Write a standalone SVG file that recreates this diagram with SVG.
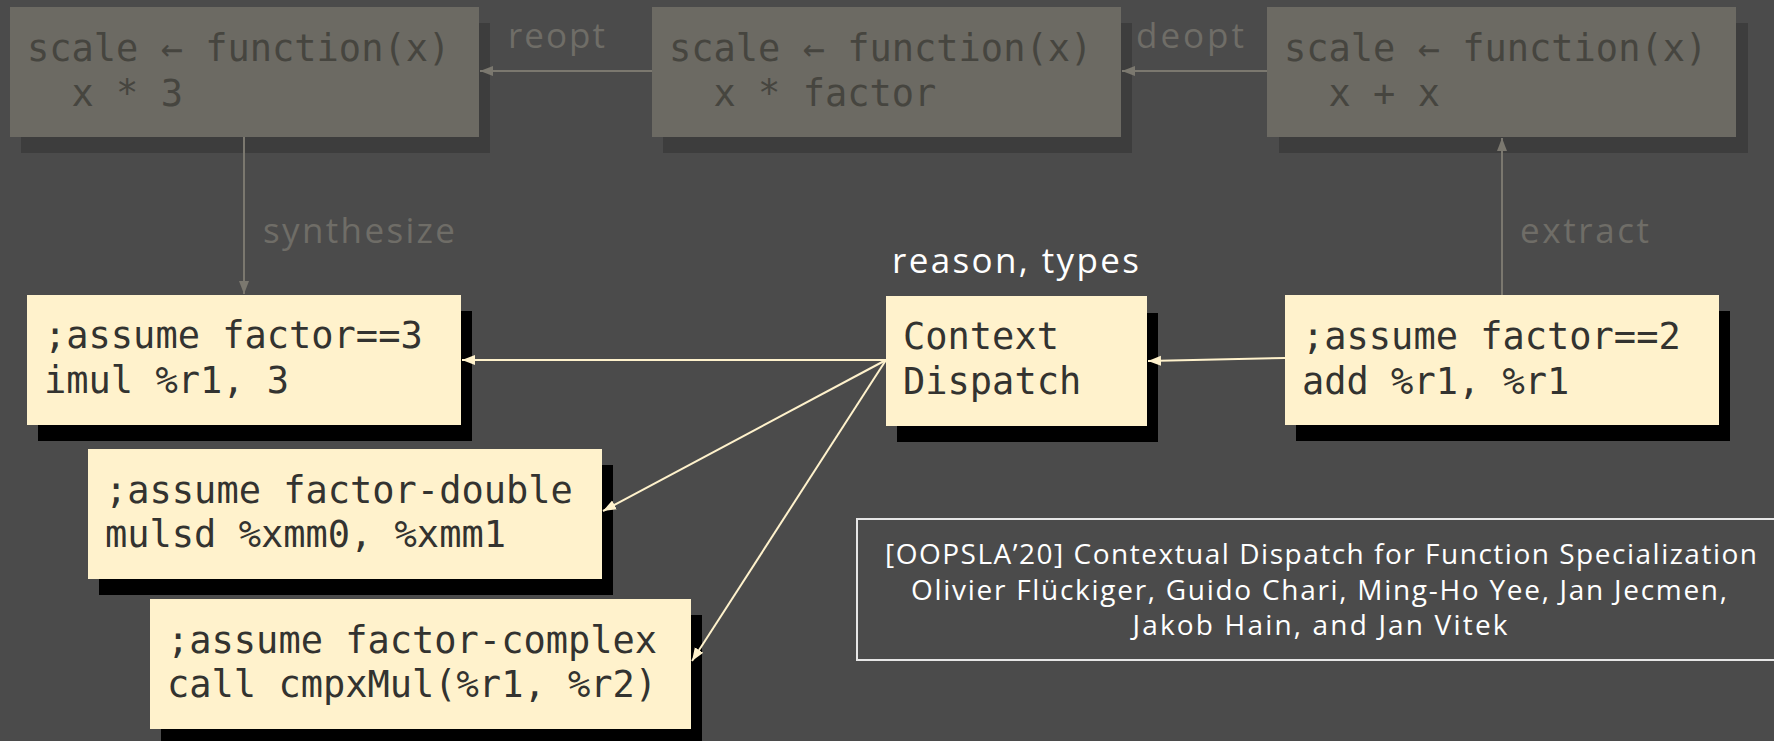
<svg xmlns="http://www.w3.org/2000/svg" width="1774" height="741" viewBox="0 0 1774 741">
<defs>
<style>
.bg{fill:#4b4b4b}
.gbox{fill:#6c6a63}
.gsh{fill:#3d3d3d}
.cbox{fill:#fff2cc}
.csh{fill:#000}
.mono{font-family:"DejaVu Sans Mono","Liberation Mono",monospace;font-size:37px}
.gtxt{fill:#46453f}
.ctxt{fill:#333330}
.lbl{font-family:"Open Sans","Noto Sans",sans-serif;font-size:35px;fill:#6f6d67}
.white{font-family:"Open Sans","Noto Sans",sans-serif;font-size:35px;fill:#ffffff}
.cite{font-family:"Open Sans","Noto Sans",sans-serif;font-size:28px;fill:#ffffff;text-anchor:middle}
.garrow{stroke:#7b786f;stroke-width:2;fill:none}
.carrow{stroke:#fff2cc;stroke-width:2;fill:none}
</style>
<marker id="mg" markerUnits="userSpaceOnUse" markerWidth="14" markerHeight="12" refX="13" refY="6" orient="auto">
<path d="M0,1 L13,6 L0,11 z" fill="#7b786f"/>
</marker>
<marker id="mc" markerUnits="userSpaceOnUse" markerWidth="14" markerHeight="12" refX="13" refY="6" orient="auto">
<path d="M0,1 L13,6 L0,11 z" fill="#fff2cc"/>
</marker>
</defs>
<rect class="bg" x="0" y="0" width="1774" height="741"/>

<g id="nodeA">
<rect class="gsh" x="21" y="23" width="469" height="130"/>
<rect class="gbox" x="10" y="7" width="469" height="130"/>
<text class="mono gtxt" x="27" y="61">scale ← function(x)</text>
<text class="mono gtxt" x="27" y="106" xml:space="preserve">  x * 3</text>
</g>
<g id="nodeB">
<rect class="gsh" x="663" y="23" width="469" height="130"/>
<rect class="gbox" x="652" y="7" width="469" height="130"/>
<text class="mono gtxt" x="669" y="61">scale ← function(x)</text>
<text class="mono gtxt" x="669" y="106" xml:space="preserve">  x * factor</text>
</g>
<g id="nodeC">
<rect class="gsh" x="1279" y="23" width="469" height="130"/>
<rect class="gbox" x="1267" y="7" width="469" height="130"/>
<text class="mono gtxt" x="1284" y="61">scale ← function(x)</text>
<text class="mono gtxt" x="1284" y="106" xml:space="preserve">  x + x</text>
</g>

<g id="nodeD">
<rect class="csh" x="38" y="311" width="434" height="130"/>
<rect class="cbox" x="27" y="295" width="434" height="130"/>
<text class="mono ctxt" x="44" y="348">;assume factor==3</text>
<text class="mono ctxt" x="44" y="393">imul %r1, 3</text>
</g>
<g id="nodeContext">
<text class="white" x="892" y="273" textLength="247">reason, types</text>
<rect class="csh" x="897" y="313" width="261" height="129"/>
<rect class="cbox" x="886" y="296" width="261" height="130"/>
<text class="mono ctxt" x="903" y="349">Context</text>
<text class="mono ctxt" x="903" y="394">Dispatch</text>
</g>
<g id="nodeE">
<rect class="csh" x="1296" y="311" width="434" height="130"/>
<rect class="cbox" x="1285" y="295" width="434" height="130"/>
<text class="mono ctxt" x="1302" y="349">;assume factor==2</text>
<text class="mono ctxt" x="1302" y="394">add %r1, %r1</text>
</g>
<g id="nodeF">
<rect class="csh" x="99" y="465" width="514" height="130"/>
<rect class="cbox" x="88" y="449" width="514" height="130"/>
<text class="mono ctxt" x="105" y="503">;assume factor-double</text>
<text class="mono ctxt" x="105" y="547">mulsd %xmm0, %xmm1</text>
</g>
<g id="nodeG">
<rect class="csh" x="161" y="615" width="541" height="130"/>
<rect class="cbox" x="150" y="599" width="541" height="130"/>
<text class="mono ctxt" x="167" y="653">;assume factor-complex</text>
<text class="mono ctxt" x="167" y="697">call cmpxMul(%r1, %r2)</text>
</g>

<g id="citation">
<rect x="857" y="519" width="1000" height="141" fill="none" stroke="#e6e6e6" stroke-width="2"/>
<text class="cite" x="1321" y="564" textLength="872">[OOPSLA’20] Contextual Dispatch for Function Specialization</text>
<text class="cite" x="1319" y="600" textLength="816">Olivier Flückiger, Guido Chari, Ming-Ho Yee, Jan Jecmen,</text>
<text class="cite" x="1320" y="635" textLength="375">Jakob Hain, and Jan Vitek</text>
</g>

<g id="connectors">
<path class="garrow" d="M652,71 L480,71" marker-end="url(#mg)"/>
<path class="garrow" d="M1267,71 L1122,71" marker-end="url(#mg)"/>
<path class="garrow" d="M244,137 L244,294" marker-end="url(#mg)"/>
<path class="garrow" d="M1502,295 L1502,138" marker-end="url(#mg)"/>
<path class="carrow" d="M1285,358 L1148,361" marker-end="url(#mc)"/>
<path class="carrow" d="M886,360 L462,360" marker-end="url(#mc)"/>
<path class="carrow" d="M886,360 L603,511" marker-end="url(#mc)"/>
<path class="carrow" d="M886,360 L692,661" marker-end="url(#mc)"/>
<text class="lbl" x="508" y="48" textLength="97">reopt</text>
<text class="lbl" x="1136" y="48" textLength="108">deopt</text>
<text class="lbl" x="263" y="243" textLength="192">synthesize</text>
<text class="lbl" x="1520" y="243" textLength="129">extract</text>
</g>
</svg>
